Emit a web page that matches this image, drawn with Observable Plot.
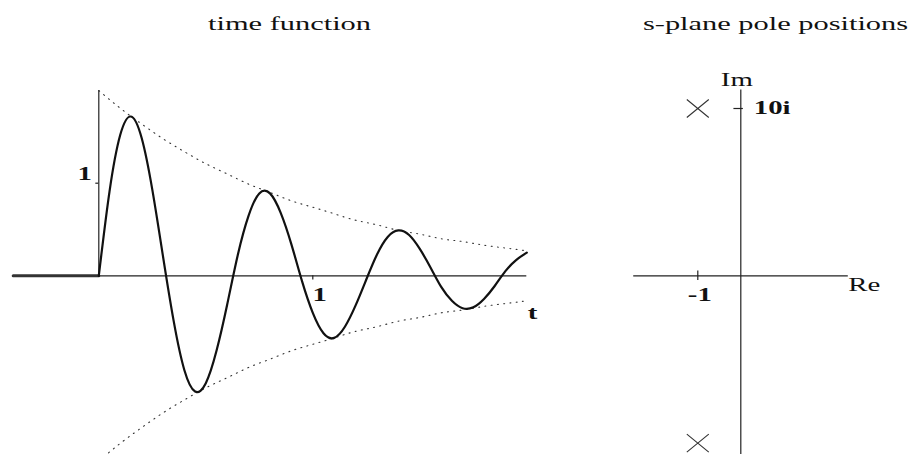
<!DOCTYPE html>
<html>
<head>
<meta charset="utf-8">
<script src="https://cdn.jsdelivr.net/npm/d3@7"></script>
<script src="https://cdn.jsdelivr.net/npm/@observablehq/plot@0.6"></script>
<style>
  html, body { margin: 0; padding: 0; background: #fff; }
  #wrap { position: relative; width: 910px; height: 454px; overflow: hidden; }
  #left { position: absolute; left: 0; top: 0; }
  #right { position: absolute; left: 600px; top: 0; }
</style>
</head>
<body>
<div id="wrap"><div id="left"></div><div id="right"></div></div>
<script>
// Impulse response of a lightly damped second-order system (poles at -1 ± 10i)
const respT = [0, 0.05, 0.10, 0.15, 0.20, 0.25, 0.30, 0.35, 0.40, 0.45, 0.50,
  0.55, 0.60, 0.65, 0.70, 0.75, 0.80, 0.85, 0.90, 0.95, 1.00,
  1.05, 1.10, 1.15, 1.20, 1.25, 1.30, 1.35, 1.40, 1.45, 1.50,
  1.55, 1.60, 1.65, 1.70, 1.75, 1.80, 1.85, 1.90, 1.95, 2.00];
const respY = [0, 0.91, 1.52, 1.72, 1.49, 0.93, 0.21, -0.49, -1.02, -1.25, -1.16,
  -0.81, -0.31, 0.23, 0.65, 0.89, 0.89, 0.68, 0.34, -0.06, -0.40,
  -0.62, -0.67, -0.55, -0.32, -0.04, 0.23, 0.42, 0.49, 0.44, 0.29,
  0.09, -0.12, -0.27, -0.35, -0.34, -0.25, -0.11, 0.05, 0.17, 0.25];

// Signal is zero before the impulse
const leadT = [-0.4, 0];
const leadY = [0, 0];

// Decay envelope (dotted, drawn above and below)
const envT = [0, 0.1, 0.2, 0.3, 0.4, 0.5, 0.6, 0.7, 0.8, 0.9, 1.0,
  1.1, 1.2, 1.3, 1.4, 1.5, 1.6, 1.7, 1.8, 1.9, 2.0];
const envY = [2.00, 1.81, 1.64, 1.48, 1.34, 1.21, 1.10, 0.99, 0.90, 0.81, 0.74,
  0.67, 0.60, 0.55, 0.49, 0.45, 0.40, 0.37, 0.33, 0.30, 0.27];

// Time-axis ticks
const timeXTicks = [1];
const timeXLabels = ["1"];
const timeYTicks = [1];
const timeYLabels = ["1"];

// Pole positions in the s-plane
const poleRe = [-1, -1];
const poleIm = [10, -10];
const reTicks = [-1];
const reLabels = ["-1"];
const imTicks = [10];
const imLabels = ["10i"];

const titles = ["time function", "s-plane pole positions"];

const serif = "'Liberation Serif', 'Times New Roman', 'DejaVu Serif', serif";
const ink = "#111";
const axisInk = "#222";

const resp = respT.map((t, i) => ({t, v: respY[i]}));
const lead = leadT.map((t, i) => ({t, v: leadY[i]}));
const envUp = envT.map((t, i) => ({t, v: envY[i]}));
const envDown = envT.map((t, i) => ({t, v: -envY[i]}));
const poles = poleRe.map((re, i) => ({re, im: poleIm[i]}));

// Pixel placement of the origin and unit lengths of each panel
const T0 = 98.3, TU = 214, V0 = 275.3, VU = 92.6;
const R0 = 140.3, RU = 43, I0 = 275.3, IU = 16.73;

const left = Plot.plot({
  width: 600, height: 454, margin: 0,
  style: {background: "transparent", overflow: "visible", fontFamily: serif, fontSize: "18px", color: ink},
  x: {type: "linear", domain: [0, 1], range: [T0, T0 + TU], axis: null},
  y: {type: "linear", domain: [0, 1], range: [V0, V0 - VU], axis: null},
  marks: [
    Plot.ruleY([0], {x1: 0, x2: 2, stroke: axisInk, strokeWidth: 1.2}),
    Plot.ruleX([0], {y1: 0, y2: 2, stroke: axisInk, strokeWidth: 1.2}),
    Plot.ruleY(timeYTicks, {x1: -0.014, x2: 0, stroke: axisInk, strokeWidth: 1.2}),
    Plot.ruleX(timeXTicks, {y1: 0, y2: -0.045, stroke: axisInk, strokeWidth: 1.2}),
    Plot.line(envUp, {x: "t", y: "v", stroke: "#333", strokeWidth: 1.1, strokeDasharray: "1 5.3", curve: "natural"}),
    Plot.line(envDown, {x: "t", y: "v", stroke: "#333", strokeWidth: 1.1, strokeDasharray: "1 5.3", curve: "natural"}),
    Plot.line(lead, {x: "t", y: "v", stroke: "#333", strokeWidth: 3}),
    Plot.line(resp, {x: "t", y: "v", stroke: ink, strokeWidth: 2.2, curve: "natural"}),
    Plot.text(timeXTicks, {x: d => d, y: 0, text: (d, i) => timeXLabels[i], dx: 7, dy: 25,
      textAnchor: "middle", lineAnchor: "bottom", fontWeight: "bold", fill: ink}),
    Plot.text(timeYTicks, {x: 0, y: d => d, text: (d, i) => timeYLabels[i], dx: -14, dy: -3.5,
      textAnchor: "middle", lineAnchor: "bottom", fontWeight: "bold", fill: ink}),
    Plot.text(["t"], {x: 2, y: 0, dx: 1, dy: 43, textAnchor: "start", lineAnchor: "bottom",
      fontWeight: "bold", fill: ink}),
    Plot.text([titles[0]], {frameAnchor: "top-left", dx: 289, dy: 29, textAnchor: "middle",
      lineAnchor: "bottom", fontSize: 19, fill: ink})
  ]
});

// Pole marker: a cross slightly wider than it is tall
const cross = {
  draw(context, size) {
    const r = Math.sqrt(size / Math.PI);
    const w = r * 1.22;
    context.moveTo(-w, -r); context.lineTo(w, r);
    context.moveTo(-w, r); context.lineTo(w, -r);
  }
};

const right = Plot.plot({
  width: 310, height: 454, margin: 0,
  style: {background: "transparent", overflow: "visible", fontFamily: serif, fontSize: "18px", color: ink},
  x: {type: "linear", domain: [0, 1], range: [R0, R0 + RU], axis: null},
  y: {type: "linear", domain: [0, 1], range: [I0, I0 - IU], axis: null},
  marks: [
    Plot.ruleY([0], {x1: -2.49, x2: 2.5, stroke: axisInk, strokeWidth: 1.2}),
    Plot.ruleX([0], {y1: -11, y2: 11.1, stroke: axisInk, strokeWidth: 1.2}),
    Plot.ruleX(reTicks, {y1: -0.28, y2: 0.28, stroke: axisInk, strokeWidth: 1.2}),
    Plot.ruleY(imTicks, {x1: -0.16, x2: 0.06, stroke: axisInk, strokeWidth: 1.2}),
    Plot.dot(poles, {x: "re", y: "im", symbol: cross, r: 9, stroke: "#333", strokeWidth: 1.1, fill: "none"}),
    Plot.text(reTicks, {x: d => d, y: 0, text: (d, i) => reLabels[i], dx: 2, dy: 25,
      textAnchor: "middle", lineAnchor: "bottom", fontWeight: "bold", fill: ink}),
    Plot.text(imTicks, {x: 0, y: d => d, text: (d, i) => imLabels[i], dx: 13, dy: 0,
      textAnchor: "start", lineAnchor: "middle", fontWeight: "bold", fill: ink}),
    Plot.text(["Re"], {x: 2.5, y: 0, dx: 0, dy: 15, textAnchor: "start", lineAnchor: "bottom", fill: ink}),
    Plot.text(["Im"], {x: 0, y: 11.1, dx: -4, dy: -4, textAnchor: "middle", lineAnchor: "bottom", fill: ink}),
    Plot.text([titles[1]], {frameAnchor: "top-left", dx: 175, dy: 29, textAnchor: "middle",
      lineAnchor: "bottom", fontSize: 19, fill: ink})
  ]
});

document.getElementById("left").append(left);
document.getElementById("right").append(right);

// The lettering in this figure is set wide; stretch each label horizontally.
function widen(svg, k) {
  svg.querySelectorAll("text").forEach(el => {
    const w = el.getComputedTextLength();
    if (w > 0) {
      el.setAttribute("textLength", (w * k).toFixed(1));
      el.setAttribute("lengthAdjust", "spacingAndGlyphs");
    }
  });
}
widen(left, 1.6);
widen(right, 1.6);
</script>
</body>
</html>
